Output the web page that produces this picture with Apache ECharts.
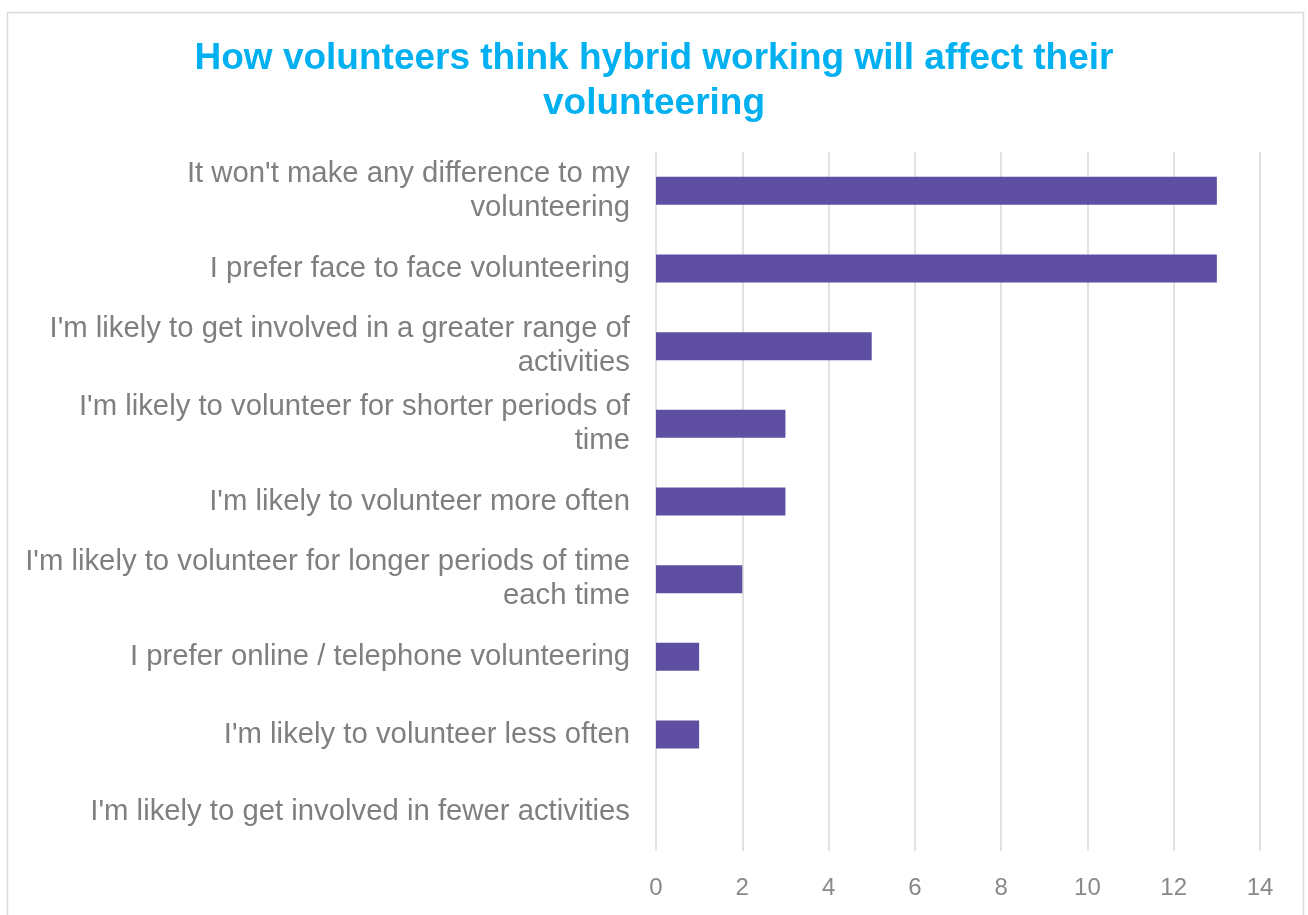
<!DOCTYPE html>
<html>
<head>
<meta charset="utf-8">
<style>
  html, body { margin: 0; padding: 0; background: #ffffff; }
  #chart { width: 1308px; height: 915px; }
</style>
<script src="https://cdn.jsdelivr.net/npm/echarts@6/dist/echarts.min.js"></script>
</head>
<body>
<div id="chart"></div>
<script>
// Survey responses: how hybrid working will affect volunteering
const categories = [
  "It won't make any difference to my\nvolunteering",
  "I prefer face to face volunteering",
  "I'm likely to get involved in a greater range of\nactivities",
  "I'm likely to volunteer for shorter periods of\ntime",
  "I'm likely to volunteer more often",
  "I'm likely to volunteer for longer periods of time\neach time",
  "I prefer online / telephone volunteering",
  "I'm likely to volunteer less often",
  "I'm likely to get involved in fewer activities"
];
const responses = [13, 13, 5, 3, 3, 2, 1, 1, 0];
const xTicks = { min: 0, max: 14, interval: 2 };

const chart = echarts.init(document.getElementById('chart'), null, { renderer: 'canvas' });

chart.setOption({
  backgroundColor: '#ffffff',
  animation: false,
  title: {
    text: 'How volunteers think hybrid working will affect their\nvolunteering',
    left: 'center',
    top: 31,
    textStyle: {
      fontFamily: 'Liberation Sans, Arial, sans-serif',
      fontSize: 37,
      fontWeight: 'bold',
      color: '#00B0F0',
      lineHeight: 45
    }
  },
  graphic: [{
    type: 'rect',
    shape: { x: 7.5, y: 12.5, width: 1296, height: 920 },
    style: { fill: 'none', stroke: '#D9D9D9', lineWidth: 1.5 },
    silent: true,
    z: -1
  }],
  grid: { left: 656, right: 48, top: 152, bottom: 64, containLabel: false },
  xAxis: {
    type: 'value',
    min: xTicks.min,
    max: xTicks.max,
    interval: xTicks.interval,
    axisLine: { show: false },
    axisTick: { show: false },
    splitLine: { show: true, lineStyle: { color: '#D9D9D9', width: 1.5 } },
    axisLabel: {
      margin: 25,
      fontFamily: 'Liberation Sans, Arial, sans-serif',
      fontSize: 24,
      color: '#898989'
    }
  },
  yAxis: {
    type: 'category',
    data: categories,
    inverse: true,
    axisLine: { show: false },
    axisTick: { show: false },
    splitLine: { show: false },
    axisLabel: {
      margin: 26,
      align: 'right',
      fontFamily: 'Liberation Sans, Arial, sans-serif',
      fontSize: 29.3,
      lineHeight: 34,
      color: '#7F7F7F'
    }
  },
  series: [{
    type: 'bar',
    data: responses,
    barWidth: 28,
    itemStyle: { color: '#5E4FA2' }
  }]
});
</script>
</body>
</html>
